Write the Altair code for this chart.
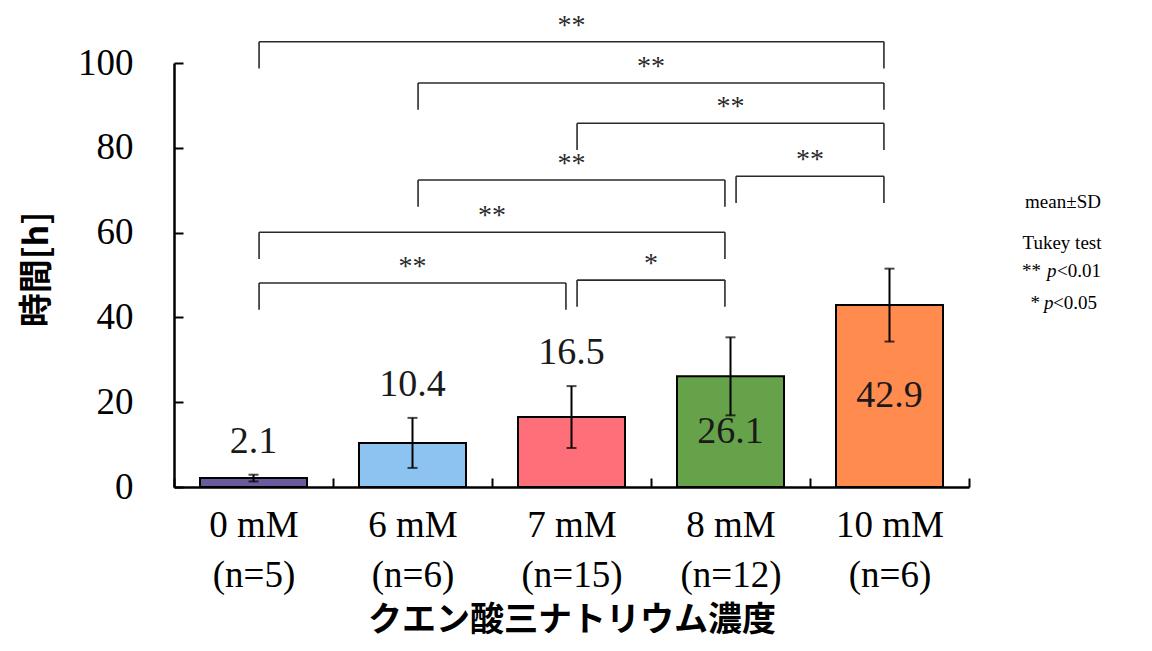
import altair as alt
import pandas as pd

# ---------------- data ----------------
groups = ["0 mM", "6 mM", "7 mM", "8 mM", "10 mM"]
n_labels = ["(n=5)", "(n=6)", "(n=15)", "(n=12)", "(n=6)"]
means = [2.1, 10.4, 16.5, 26.1, 42.9]
sds = [0.8, 5.9, 7.3, 9.2, 8.6]
colors = ["#6A5C9C", "#8DC3F0", "#FF6F79", "#65A24A", "#FF8B4F"]

br_left = ["0 mM", "6 mM", "7 mM", "6 mM", "8 mM", "0 mM", "0 mM", "7 mM"]
br_right = ["10 mM", "10 mM", "10 mM", "8 mM", "10 mM", "8 mM", "7 mM", "8 mM"]
br_level = [105.0, 95.3, 85.8, 72.4, 73.3, 60.1, 48.1, 48.8]
br_sig = ["**", "**", "**", "**", "**", "**", "**", "*"]

y_ticks = [0, 20, 40, 60, 80, 100]

SERIF = "Liberation Serif"
CJK = "Noto Sans CJK JP"

# ---------------- tables ----------------
bars_df = pd.DataFrame({
    "group": groups,
    "xlab": [g + "|" + n for g, n in zip(groups, n_labels)],
    "mean": means,
    "sd": sds,
})
bars_df["lo"] = bars_df["mean"] - bars_df["sd"]
bars_df["hi"] = bars_df["mean"] + bars_df["sd"]
xlab_order = list(bars_df["xlab"])

br_df = pd.DataFrame({
    "li": [groups.index(g) for g in br_left],
    "ri": [groups.index(g) for g in br_right],
    "level": br_level,
    "sig": br_sig,
})

W, H = 795, 424

X = alt.X(
    "xlab:N",
    sort=xlab_order,
    scale=alt.Scale(paddingInner=0, paddingOuter=0),
    axis=alt.Axis(
        title="クエン酸三ナトリウム濃度",
        labelExpr="split(datum.label, '|')",
        labelAngle=0,
        labelFont=SERIF,
        labelFontSize=37,
        labelColor="black",
        labelLineHeight=50,
        labelPadding=29,
        labelOverlap=False,
        tickBand="extent",
        tickSize={"expr": "-9"},
        tickWidth=2,
        tickColor="black",
        domainColor="black",
        domainWidth=2.5,
        titleFont=CJK,
        titleFontWeight="bold",
        titleFontSize=34,
        titleColor="black",
        titleBaseline="middle",
        titleY=133,
    ),
)

Yax = alt.Axis(
    values=y_ticks,
    title="時間[h]",
    grid=False,
    labelFont=SERIF,
    labelFontSize=37,
    labelColor="black",
    labelPadding=50,
    labelFlush=False,
    tickSize={"expr": "-9"},
    tickWidth=2,
    tickColor="black",
    domainColor="black",
    domainWidth=2.5,
    titleFont=CJK,
    titleFontWeight="bold",
    titleFontSize=34,
    titleColor="black",
    titleAngle=-90,
    titleBaseline="middle",
    titleAlign="center",
    titleX=-137,
    titleY=206,
)
yscale = alt.Scale(domain=[0, 100], nice=False, zero=True)


def Y(field):
    return alt.Y(field, scale=yscale, axis=Yax)


base = alt.Chart(bars_df)

bars = base.mark_bar(width=alt.RelativeBandSize(0.673), stroke="black", strokeWidth=2).encode(
    x=X,
    y=Y("mean:Q"),
    color=alt.Color("group:N", scale=alt.Scale(domain=groups, range=colors), legend=None),
)

err = base.mark_rule(color="black", strokeWidth=2).encode(x=X, y=Y("lo:Q"), y2="hi:Q")
cap_hi = base.mark_tick(orient="horizontal", size=10, thickness=2, color="black").encode(
    x=X, y=Y("hi:Q")
)
cap_lo = base.mark_tick(orient="horizontal", size=10, thickness=2, color="black").encode(
    x=X, y=Y("lo:Q")
)

lab_above = base.transform_filter("datum.mean < 20").mark_text(
    font=SERIF, fontSize=38, color="#1a1a1a", baseline="alphabetic", dy=-22
).encode(x=X, y=Y("hi:Q"), text=alt.Text("mean:Q", format=".1f"))

lab_inside = base.transform_filter("datum.mean >= 20").transform_calculate(
    mid="datum.mean / 2"
).mark_text(
    font=SERIF, fontSize=38, color="#1a1a1a", baseline="middle"
).encode(x=X, y=Y("mid:Q"), text=alt.Text("mean:Q", format=".1f"))

bar_layer = alt.layer(bars, err, cap_hi, cap_lo, lab_above, lab_inside)

# ---------------- significance brackets ----------------
bx = alt.Scale(domain=[-0.5, 4.5], nice=False, zero=False)
bb = alt.Chart(br_df).transform_calculate(
    xl="datum.li + 0.035",
    xr="datum.ri - 0.035",
    xm="(datum.li + datum.ri) / 2",
    low="datum.level - 6.3",
)
br_h = bb.mark_rule(color="#2a2a2a", strokeWidth=1.6).encode(
    x=alt.X("xl:Q", scale=bx, axis=None), x2="xr:Q", y=Y("level:Q")
)
br_l = bb.mark_rule(color="#2a2a2a", strokeWidth=1.6).encode(
    x=alt.X("xl:Q", scale=bx, axis=None), y=Y("level:Q"), y2="low:Q"
)
br_r = bb.mark_rule(color="#2a2a2a", strokeWidth=1.6).encode(
    x=alt.X("xr:Q", scale=bx, axis=None), y=Y("level:Q"), y2="low:Q"
)
br_t = bb.mark_text(font=SERIF, fontSize=28, color="#2a2a2a", baseline="alphabetic", dy=-8).encode(
    x=alt.X("xm:Q", scale=bx, axis=None), y=Y("level:Q"), text="sig:N"
)
br_layer = alt.layer(br_h, br_l, br_r, br_t)

# ---------------- note text (right side) ----------------
def note(txt, x, y, align="center", italic=False):
    return alt.Chart(pd.DataFrame({"t": [txt]})).mark_text(
        font=SERIF, fontSize=19, color="black", align=align, baseline="middle",
        fontStyle="italic" if italic else "normal",
    ).encode(text="t:N", x=alt.value(x), y=alt.value(y))

notes = alt.layer(
    note("mean±SD", 889, 139),
    note("Tukey test", 888, 180),
    note("**", 867, 208, "right"),
    note("p", 873, 208, "left", True),
    note("<0.01", 883, 208, "left"),
    note("*", 866, 240, "right"),
    note("p", 870, 240, "left", True),
    note("<0.05", 879, 240, "left"),
)

chart = alt.layer(bar_layer, br_layer, notes).resolve_scale(x="independent").properties(
    width=W,
    height=H,
    padding={"left": 166, "top": 55, "right": 175, "bottom": 156},
    autosize=alt.AutoSizeParams(type="none"),
    background="white",
).configure_view(stroke=None)

chart.save("out.html", embed_options={"renderer": "svg", "actions": False})
